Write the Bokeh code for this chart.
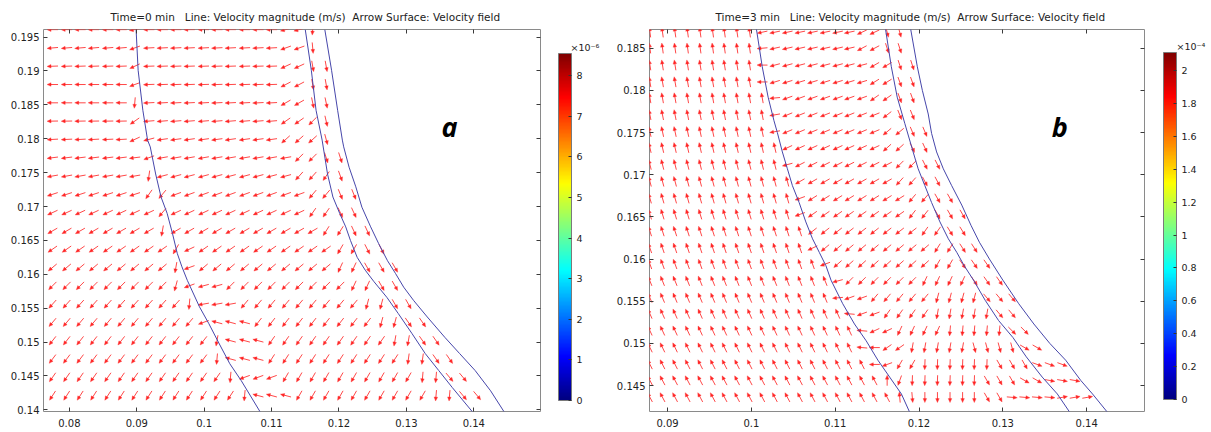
import numpy as np
from bokeh.plotting import figure
from bokeh.models import (Range1d, LinearAxis, FixedTicker, Label, Title, ColorBar,
                          LinearColorMapper)
from bokeh.layouts import row
from bokeh.embed import file_html
from bokeh.resources import INLINE

FONT = "DejaVu Sans"
NB = "\u00a0"

# ---------------- panel a data ----------------
A_TITLE = "Time=0 min" + NB + NB + " Line: Velocity magnitude (m/s)" + NB + " Arrow Surface: Velocity field"
A_XTICKS = [0.08, 0.09, 0.10, 0.11, 0.12, 0.13, 0.14]
A_XLABELS = ["0.08", "0.09", "0.1", "0.11", "0.12", "0.13", "0.14"]
A_YTICKS = [0.14, 0.145, 0.15, 0.155, 0.16, 0.165, 0.17, 0.175, 0.18, 0.185, 0.19, 0.195]
A_YLABELS = ["0.14", "0.145", "0.15", "0.155", "0.16", "0.165", "0.17", "0.175", "0.18", "0.185", "0.19", "0.195"]

A_C1_X = [0.0899, 0.0902, 0.0909, 0.0916, 0.0920, 0.0928, 0.0936, 0.0945, 0.0953, 0.0960, 0.0967, 0.0975, 0.0993, 0.1007, 0.1021, 0.1038, 0.1055, 0.1083]
A_C1_Y = [0.1961, 0.1901, 0.1842, 0.1798, 0.1788, 0.1748, 0.1714, 0.1690, 0.1660, 0.1631, 0.1611, 0.1591, 0.1552, 0.1527, 0.1500, 0.1468, 0.1443, 0.1397]
A_C2_X = [0.1150, 0.1159, 0.1166, 0.1175, 0.1183, 0.1191, 0.1201, 0.1210, 0.1217, 0.1227, 0.1239, 0.1252, 0.1271, 0.1288, 0.1308, 0.1328, 0.1348, 0.1368, 0.1398]
A_C2_Y = [0.1961, 0.1901, 0.1842, 0.1798, 0.1748, 0.1714, 0.1690, 0.1670, 0.1650, 0.1625, 0.1606, 0.1589, 0.1566, 0.1542, 0.1513, 0.1483, 0.1458, 0.1433, 0.1397]
A_C3_X = [0.1179, 0.1189, 0.1198, 0.1205, 0.1207, 0.1215, 0.1225, 0.1234, 0.1247, 0.1259, 0.1272, 0.1284, 0.1296, 0.1311, 0.1331, 0.1357, 0.1379, 0.1402, 0.1425, 0.1445]
A_C3_Y = [0.1961, 0.1901, 0.1842, 0.1798, 0.1788, 0.1758, 0.1729, 0.1699, 0.1670, 0.1645, 0.1620, 0.1601, 0.1581, 0.1561, 0.1537, 0.1507, 0.1483, 0.1458, 0.1428, 0.1397]

A_COLS = [0.0775, 0.0796, 0.0816, 0.0836, 0.0857, 0.0877, 0.0897, 0.0918, 0.0938, 0.0958,
          0.0978, 0.0999, 0.1019, 0.1039, 0.1060, 0.1080, 0.1100, 0.1121, 0.1141, 0.1161,
          0.1181, 0.1202, 0.1222, 0.1242, 0.1263, 0.1283, 0.1303, 0.1324, 0.1344, 0.1364,
          0.1384, 0.1405, 0.1425, 0.1445, 0.1466, 0.1486]
A_ROWS = [0.1421, 0.1448, 0.1475, 0.1502, 0.1529, 0.1556, 0.1583, 0.1610, 0.1637, 0.1664,
          0.1691, 0.1718, 0.1745, 0.1772, 0.1799, 0.1826, 0.1853, 0.1880, 0.1907, 0.1934, 0.1961]
# arrow directions (degrees on screen, 0 = right, 90 = up) as [count, angle] runs along each row
A_ANGLES = [
    [[14, 237], [1, 265], [3, 165], [10, 240], [2, 265], [2, 310], [4, None]],
    [[13, 235], [1, 265], [3, 200], [10, 240], [2, 265], [2, 310], [5, None]],
    [[12, 233], [1, 265], [3, 165], [10, 237], [2, 262], [2, 305], [6, None]],
    [[12, 232], [1, 260], [3, 165], [9, 235], [2, 260], [2, 305], [7, None]],
    [[11, 230], [1, 200], [3, 165], [9, 232], [2, 255], [2, 305], [8, None]],
    [[10, 228], [1, 265], [3, 190], [9, 230], [2, 255], [2, 300], [9, None]],
    [[9, 225], [1, 255], [1, 200], [2, 195], [9, 225], [2, 245], [2, 300], [10, None]],
    [[9, 220], [1, 260], [1, 200], [10, 220], [2, 245], [3, 300], [10, None]],
    [[9, 215], [1, 240], [1, 205], [10, 215], [2, 240], [2, 297], [11, None]],
    [[8, 210], [1, 260], [11, 210], [2, 238], [2, 295], [12, None]],
    [[8, 205], [1, 230], [10, 205], [2, 235], [2, 295], [13, None]],
    [[7, 198], [1, 235], [1, 230], [10, 200], [2, 230], [2, 292], [13, None]],
    [[7, 190], [1, 262], [10, 195], [2, 228], [1, 235], [1, 290], [14, None]],
    [[7, 187], [1, 200], [10, 190], [2, 225], [2, 288], [14, None]],
    [[6, 183], [1, 205], [1, 195], [9, 188], [3, 222], [1, 285], [15, None]],
    [[6, 181], [1, 215], [10, 185], [2, 215], [1, 225], [1, 283], [15, None]],
    [[6, 180], [1, 265], [10, 183], [2, 210], [2, 282], [15, None]],
    [[6, 180], [1, 200], [10, 182], [2, 208], [2, 280], [15, None]],
    [[6, 182], [1, 205], [10, 182], [2, 205], [2, 280], [15, None]],
    [[6, 185], [1, 200], [10, 183], [2, 200], [1, 275], [16, None]],
    [[6, 180], [1, 190], [10, 180], [2, 195], [1, 265], [16, None]],
]
A_CBAR_MAX = 8.55
A_CBAR_TICKS = [0, 1, 2, 3, 4, 5, 6, 7, 8]
A_CBAR_LABELS = ["0", "1", "2", "3", "4", "5", "6", "7", "8"]
A_CBAR_SCALE = "×10⁻⁶"

# ---------------- panel b data ----------------
B_TITLE = "Time=3 min" + NB + NB + " Line: Velocity magnitude (m/s)" + NB + " Arrow Surface: Velocity field"
B_XTICKS = [0.09, 0.10, 0.11, 0.12, 0.13, 0.14]
B_XLABELS = ["0.09", "0.1", "0.11", "0.12", "0.13", "0.14"]
B_YTICKS = [0.145, 0.15, 0.155, 0.16, 0.165, 0.17, 0.175, 0.18, 0.185]
B_YLABELS = ["0.145", "0.15", "0.155", "0.16", "0.165", "0.17", "0.175", "0.18", "0.185"]

B_C1_X = [0.1006, 0.1013, 0.1020, 0.1027, 0.1031, 0.1037, 0.1043, 0.1049, 0.1057, 0.1065, 0.1073, 0.1081, 0.1089, 0.1095, 0.1109, 0.1123, 0.1137, 0.1151, 0.1165, 0.1179, 0.1189]
B_C1_Y = [0.1873, 0.1828, 0.1792, 0.1764, 0.1750, 0.1727, 0.1707, 0.1687, 0.1667, 0.1644, 0.1624, 0.1608, 0.1592, 0.1575, 0.1547, 0.1523, 0.1503, 0.1480, 0.1460, 0.1440, 0.1418]
B_C2_X = [0.1160, 0.1167, 0.1174, 0.1183, 0.1193, 0.1199, 0.1207, 0.1215, 0.1225, 0.1235, 0.1245, 0.1254, 0.1265, 0.1279, 0.1295, 0.1312, 0.1328, 0.1347, 0.1365, 0.1380]
B_C2_Y = [0.1873, 0.1828, 0.1792, 0.1761, 0.1727, 0.1707, 0.1687, 0.1667, 0.1644, 0.1624, 0.1608, 0.1592, 0.1575, 0.1551, 0.1527, 0.1507, 0.1484, 0.1460, 0.1440, 0.1418]
B_C3_X = [0.1190, 0.1198, 0.1204, 0.1211, 0.1215, 0.1221, 0.1229, 0.1239, 0.1251, 0.1262, 0.1272, 0.1284, 0.1300, 0.1319, 0.1337, 0.1356, 0.1375, 0.1393, 0.1407, 0.1425]
B_C3_Y = [0.1873, 0.1828, 0.1800, 0.1772, 0.1749, 0.1727, 0.1707, 0.1687, 0.1664, 0.1640, 0.1620, 0.1600, 0.1575, 0.1547, 0.1523, 0.1500, 0.1480, 0.1456, 0.1440, 0.1418]

B_COLS = [0.0879, 0.0894, 0.0909, 0.0924, 0.0939, 0.0954, 0.0968, 0.0983, 0.0998, 0.1013,
          0.1028, 0.1043, 0.1058, 0.1073, 0.1088, 0.1103, 0.1117, 0.1132, 0.1147, 0.1162,
          0.1177, 0.1192, 0.1207, 0.1222, 0.1237, 0.1252, 0.1266, 0.1281, 0.1296, 0.1311,
          0.1326, 0.1341, 0.1356, 0.1371, 0.1386, 0.1401, 0.1415, 0.1430, 0.1445, 0.1460]
B_ROWS = [0.1436, 0.1456, 0.1475, 0.1495, 0.1515, 0.1535, 0.1554, 0.1574, 0.1594, 0.1613,
          0.1633, 0.1653, 0.1672, 0.1692, 0.1712, 0.1732, 0.1751, 0.1771, 0.1791, 0.1810,
          0.1830, 0.1850, 0.1869]
B_ANGLES = [
    [[20, 118], [1, 95], [1, 275], [5, 270], [2, 300], [4, 355], [3, 10], [4, None]],
    [[19, 118], [1, 90], [1, 250], [6, 268], [3, 300], [2, 330], [3, 350], [5, None]],
    [[18, 117], [1, 180], [1, 200], [2, 240], [6, 268], [3, 300], [3, 340], [6, None]],
    [[17, 116], [1, 175], [1, 180], [2, 215], [5, 260], [4, 285], [2, 330], [8, None]],
    [[17, 115], [1, 175], [2, 205], [4, 245], [5, 265], [2, 315], [9, None]],
    [[16, 114], [1, 175], [2, 200], [4, 235], [5, 260], [2, 310], [10, None]],
    [[15, 113], [1, 185], [2, 200], [5, 230], [4, 255], [3, 310], [10, None]],
    [[15, 112], [1, 195], [6, 225], [4, 245], [3, 305], [11, None]],
    [[14, 110], [1, 200], [8, 222], [2, 240], [3, 305], [12, None]],
    [[13, 109], [1, 205], [9, 220], [2, 238], [2, 303], [13, None]],
    [[13, 108], [9, 218], [2, 235], [2, 302], [14, None]],
    [[12, 107], [1, 200], [8, 215], [2, 232], [3, 300], [14, None]],
    [[12, 106], [1, 200], [8, 212], [2, 230], [2, 300], [15, None]],
    [[12, 105], [8, 210], [2, 228], [2, 298], [16, None]],
    [[11, 104], [1, 195], [8, 207], [2, 225], [2, 297], [16, None]],
    [[11, 103], [8, 205], [2, 222], [2, 295], [17, None]],
    [[10, 102], [1, 190], [8, 203], [2, 220], [2, 293], [17, None]],
    [[10, 101], [1, 190], [8, 202], [1, 218], [2, 292], [18, None]],
    [[10, 100], [1, 185], [7, 200], [2, 215], [2, 290], [18, None]],
    [[9, 100], [1, 180], [8, 197], [2, 212], [2, 290], [18, None]],
    [[9, 99], [1, 180], [8, 195], [2, 210], [2, 288], [18, None]],
    [[9, 98], [1, 185], [7, 193], [2, 208], [2, 288], [19, None]],
    [[9, 98], [8, 192], [2, 205], [2, 285], [19, None]],
]
B_CBAR_MAX = 2.11
B_CBAR_TICKS = [0, 0.2, 0.4, 0.6, 0.8, 1.0, 1.2, 1.4, 1.6, 1.8, 2.0]
B_CBAR_LABELS = ["0", "0.2", "0.4", "0.6", "0.8", "1", "1.2", "1.4", "1.6", "1.8", "2"]
B_CBAR_SCALE = "×10⁻⁴"

# ---------------- styling helpers ----------------
ARROW_COLOR = "#ff1a1a"
LINE_COLOR = "#4646aa"
TICK_COLOR = "#3a3a3a"
TEXT_COLOR = "#222222"
TOP, BOTTOM = 29, 21  # frame borders shared by every figure of the row


def jet(n=256):
    cols = []
    for i in range(n):
        v = i / (n - 1)
        r = min(max(1.5 - abs(4 * v - 3), 0), 1)
        g = min(max(1.5 - abs(4 * v - 2), 0), 1)
        b = min(max(1.5 - abs(4 * v - 1), 0), 1)
        cols.append("#%02x%02x%02x" % (int(r * 255), int(g * 255), int(b * 255)))
    return cols


def add_axis(p, place, ticks, labels, show, standoff=4):
    ax = LinearAxis(ticker=FixedTicker(ticks=ticks, minor_ticks=[]),
                    axis_line_color=None,
                    major_tick_in=4, major_tick_out=0,
                    major_tick_line_color=TICK_COLOR, minor_tick_line_color=None,
                    major_label_text_font=FONT,
                    major_label_text_color=TEXT_COLOR,
                    major_label_standoff=standoff if show else 0,
                    major_label_text_font_size="10px" if show else "0px")
    if show:
        ax.major_label_overrides = {t: l for t, l in zip(ticks, labels)}
    else:
        ax.major_label_text_alpha = 0
    p.add_layout(ax, place)


def make_main(width, border_left, xr, yr, fw, xt, xl, yt, yl, title, title_offset):
    p = figure(width=width, height=432, x_range=Range1d(*xr), y_range=Range1d(*yr),
               output_backend="svg", toolbar_location=None,
               x_axis_location=None, y_axis_location=None,
               min_border_left=border_left, min_border_right=width - border_left - fw,
               min_border_top=TOP, min_border_bottom=BOTTOM,
               outline_line_color="#8a8a8a", outline_line_width=1,
               background_fill_color="white", border_fill_color="white")
    for g in p.grid:
        g.visible = False
    add_axis(p, "below", xt, xl, True, standoff=7)
    add_axis(p, "left", yt, yl, True, standoff=4)
    add_axis(p, "above", xt, xl, False)
    add_axis(p, "right", yt, yl, False)
    p.add_layout(Title(text=title, align="left", offset=title_offset, standoff=14,
                       text_font=FONT, text_font_size="10.5px", text_font_style="normal",
                       text_color=TEXT_COLOR), "above")
    return p


def expand(runs, n):
    out = []
    for cnt, ang in runs:
        out.extend([ang] * cnt)
    return (out + [None] * n)[:n]


def draw_arrows(p, cols, rows, table, xr, yr, fw, fh, length):
    sx = (xr[1] - xr[0]) / fw
    sy = (yr[1] - yr[0]) / fh
    x0, y0, x1, y1, hx, hy = [], [], [], [], [], []
    hl, hw = 4.0, 1.8
    for yv, runs in zip(rows, table):
        for xv, a in zip(cols, expand(runs, len(cols))):
            if a is None:
                continue
            t = np.deg2rad(a)
            c, s = np.cos(t), np.sin(t)
            tipx, tipy = xv + 0.5 * length * c * sx, yv + 0.5 * length * s * sy
            x0.append(xv - 0.5 * length * c * sx)
            y0.append(yv - 0.5 * length * s * sy)
            x1.append(tipx - 0.6 * hl * c * sx)
            y1.append(tipy - 0.6 * hl * s * sy)
            bx, by = tipx - hl * c * sx, tipy - hl * s * sy
            hx.append([tipx, bx - hw * s * sx, bx + hw * s * sx])
            hy.append([tipy, by + hw * c * sy, by - hw * c * sy])
    p.segment(x0, y0, x1, y1, line_color=ARROW_COLOR, line_width=1, line_alpha=0.8)
    p.patches(hx, hy, fill_color=ARROW_COLOR, fill_alpha=0.9, line_color=ARROW_COLOR,
              line_alpha=0.6, line_width=0.5)


def make_cbar(width, bar_left, bar_bottom, vmax, ticks, labels, scale_text, scale_x, scale_y):
    fh = 432 - TOP - BOTTOM
    p = figure(width=width, height=432, x_range=Range1d(0, width), y_range=Range1d(0, fh),
               output_backend="svg", toolbar_location=None,
               x_axis_location=None, y_axis_location=None,
               min_border_left=0, min_border_right=0,
               min_border_top=TOP, min_border_bottom=BOTTOM,
               outline_line_color=None,
               background_fill_color="white", border_fill_color="white")
    for g in p.grid:
        g.visible = False
    mapper = LinearColorMapper(palette=jet(256), low=0, high=vmax)
    cbar = ColorBar(color_mapper=mapper, ticker=FixedTicker(ticks=ticks, minor_ticks=[]),
                    major_label_overrides={t: l for t, l in zip(ticks, labels)},
                    orientation="vertical", location=(bar_left, bar_bottom),
                    width=13, height=347, padding=0, margin=0,
                    bar_line_color="#7a7a7a", bar_line_width=1,
                    border_line_color=None, background_fill_color=None,
                    major_tick_in=3, major_tick_out=0, major_tick_line_color="#333333",
                    minor_tick_line_color=None, label_standoff=5,
                    major_label_text_font=FONT, major_label_text_font_size="9.5px",
                    major_label_text_color=TEXT_COLOR)
    p.add_layout(cbar, "center")
    p.add_layout(Label(x=scale_x, y=scale_y, text=scale_text, text_font=FONT,
                       text_font_size="9.5px", text_color=TEXT_COLOR,
                       text_align="left", text_baseline="alphabetic"))
    return p


# ---------------- panel a ----------------
A_XR, A_YR, A_FW = (0.07616, 0.1499), (0.13975, 0.19612), 497
FH = 432 - TOP - BOTTOM
pa = make_main(548, 43, A_XR, A_YR, A_FW, A_XTICKS, A_XLABELS, A_YTICKS, A_YLABELS, A_TITLE, 67)
draw_arrows(pa, A_COLS, A_ROWS, A_ANGLES, A_XR, A_YR, A_FW, FH, 11)
for xs, ys in [(A_C1_X, A_C1_Y), (A_C2_X, A_C2_Y), (A_C3_X, A_C3_Y)]:
    pa.line(xs, ys, line_color=LINE_COLOR, line_width=1)
pa.add_layout(Label(x=0.1364, y=0.1818, text="a", text_font="Open Sans", text_font_size="27px",
                    text_font_style="bold italic", text_color="black", text_align="center",
                    text_baseline="alphabetic"))
ca = make_cbar(57, 10, 11, A_CBAR_MAX, A_CBAR_TICKS, A_CBAR_LABELS, A_CBAR_SCALE, 22, 364)

# ---------------- panel b ----------------
B_XR, B_YR, B_FW = (0.08785, 0.1469), (0.14192, 0.18722), 495
pb = make_main(547, 44, B_XR, B_YR, B_FW, B_XTICKS, B_XLABELS, B_YTICKS, B_YLABELS, B_TITLE, 66)
draw_arrows(pb, B_COLS, B_ROWS, B_ANGLES, B_XR, B_YR, B_FW, FH, 10.5)
for xs, ys in [(B_C1_X, B_C1_Y), (B_C2_X, B_C2_Y), (B_C3_X, B_C3_Y)]:
    pb.line(xs, ys, line_color=LINE_COLOR, line_width=1)
pb.add_layout(Label(x=0.13678, y=0.1757, text="b", text_font="Open Sans", text_font_size="27px",
                    text_font_style="bold italic", text_color="black", text_align="center",
                    text_baseline="alphabetic"))
cb = make_cbar(59, 11, 12, B_CBAR_MAX, B_CBAR_TICKS, B_CBAR_LABELS, B_CBAR_SCALE, 24, 365)

layout = row(pa, ca, pb, cb, spacing=0)
open("out.html", "w").write(file_html(layout, INLINE))
